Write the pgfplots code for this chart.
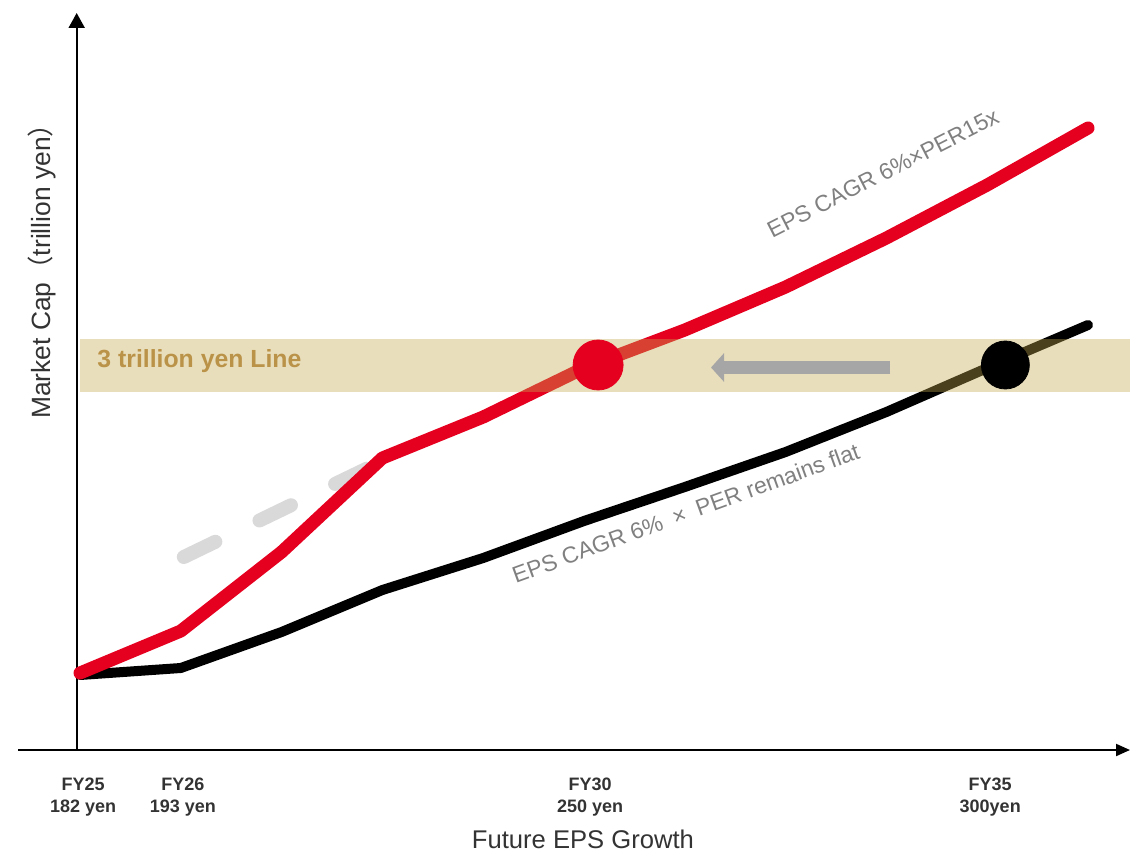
\documentclass[border=0pt]{standalone}
\usepackage{fontspec}
\setmainfont{Liberation Sans}
\newfontfamily\cjk{Noto Sans CJK JP}
\usepackage{pgfplots}
\pgfplotsset{compat=1.18}
\usetikzlibrary{arrows.meta}
\definecolor{cred}{RGB}{230,0,32}
\definecolor{band}{RGB}{195,169,78}
\definecolor{bandtext}{RGB}{186,146,72}
\definecolor{lblgray}{RGB}{128,128,128}
\definecolor{dashgray}{RGB}{217,217,217}
\definecolor{arrowgray}{RGB}{166,166,166}
\definecolor{axistext}{RGB}{51,51,51}
\begin{document}
\begin{tikzpicture}
\begin{axis}[
  x=50.4pt, y=0.5pt,
  xmin=24.3849, xmax=35.4167, ymin=0, ymax=735,
  clip=false,
  axis line style={draw=none},
  tick style={draw=none},
  ytick=\empty,
  xtick={25.03,26.02,30.06,34.03},
  xticklabels={{FY25\\182 yen},{FY26\\193 yen},{FY30\\250 yen},{FY35\\300yen}},
  xticklabel style={align=center, font=\bfseries\fontsize{9}{11}\selectfont, text=axistext, yshift=-10.5pt},
  xlabel={Future EPS Growth},
  xlabel style={at={(axis description cs:0.508,-0.1210)}, anchor=center, font=\fontsize{12.8}{14}\selectfont, text=axistext},
  ylabel={Market Cap{\cjk（}trillion yen{\cjk）}},
  ylabel style={at={(axis description cs:0.0216,0.660)}, anchor=center, font=\fontsize{13.2}{15}\selectfont, text=axistext},
]
% axes
\draw[line width=1pt, -{Triangle[length=7pt,width=6pt]}] (axis cs:24.3849,0) -- (axis cs:35.4167,0);
\draw[line width=1pt, -{Triangle[length=7.5pt,width=8pt]}] (axis cs:24.967,0) -- (axis cs:24.967,737);
% dashed guide
\addplot[dashgray, line width=7pt, line cap=round, dash pattern=on 17.5pt off 24.5pt] coordinates {(26.03,193) (27.94,286)};
% black: EPS CAGR 6% x PER flat
\addplot[black, line width=5pt, line join=round, line cap=round] coordinates {
(25,75)(26,82)(27,118)(28,160)(29,192)(30,229)(31,263)(32,298)(33,338)(34,382)(35,425)};
% red: EPS CAGR 6% x PER 15x
\addplot[cred, line width=6.5pt, line join=round, line cap=round] coordinates {
(25,77)(26,119)(27,198)(28,292)(29,333)(30,382)(31,420)(32,463)(33,512)(34,565)(35,622)};
% 3 trillion yen band
\fill[band, fill opacity=0.385] (axis cs:25,358) rectangle (axis cs:35.4167,411);
\node[anchor=west, text=bandtext, font=\bfseries\fontsize{12.4}{14}\selectfont, inner sep=0pt] at (axis cs:25.169,389) {3 trillion yen Line};
% arrow
\draw[arrowgray, line width=6.5pt, -{Triangle[length=6.5pt,width=14pt]}] (axis cs:33.04,382.5) -- (axis cs:31.26,382.5);
% dots
\addplot[only marks, mark=*, mark size=12.5pt, cred, mark options={draw=none, fill=cred}] coordinates {(30.14,385)};
\addplot[only marks, mark=*, mark size=12pt, black, mark options={draw=none, fill=black}] coordinates {(34.18,385)};
% line labels
\node[rotate=27, text=lblgray, font=\fontsize{11.5}{13}\selectfont] at (axis cs:32.966,577) {EPS CAGR 6\%×PER15x};
\node[rotate=20, text=lblgray, font=\fontsize{11.5}{13}\selectfont] at (axis cs:31.01,237) {EPS CAGR 6\%\enspace×\enspace PER remains flat};
\coordinate (bbA) at (axis cs:24.2063,-102);
\coordinate (bbB) at (axis cs:35.4167,750);
\end{axis}
\pgfresetboundingbox
\useasboundingbox (bbA) rectangle (bbB);
\end{tikzpicture}
\end{document}
